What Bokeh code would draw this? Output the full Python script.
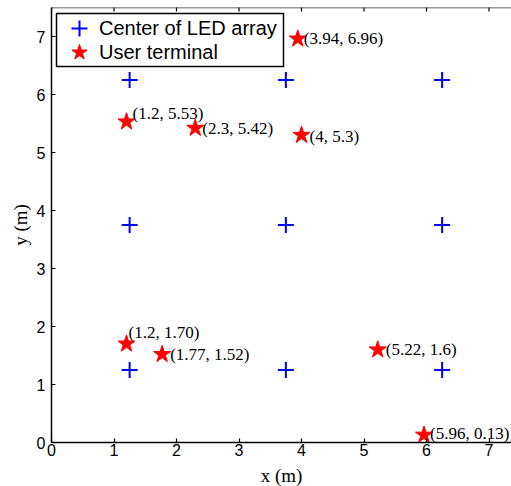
import math
from bokeh.plotting import figure
from bokeh.models import (ColumnDataSource, Range1d, LinearAxis, FixedTicker, Legend,
                          LegendItem, Span, BoxAnnotation)
from bokeh.core.properties import value
from bokeh.embed import file_html
from bokeh.resources import INLINE

# LED array centres
led_x = [1.25, 3.75, 6.25, 1.25, 3.75, 6.25, 1.25, 3.75, 6.25]
led_y = [6.25, 6.25, 6.25, 3.75, 3.75, 3.75, 1.25, 1.25, 1.25]

# user terminals
ut_x = [1.2, 2.3, 3.94, 4.0, 1.2, 1.77, 5.22, 5.96]
ut_y = [5.53, 5.42, 6.96, 5.3, 1.70, 1.52, 1.6, 0.13]
ut_labels = ["(1.2, 5.53)", "(2.3, 5.42)", "(3.94, 6.96)", "(4, 5.3)",
             "(1.2, 1.70)", "(1.77, 1.52)", "(5.22, 1.6)", "(5.96, 0.13)"]

legend_labels = ["Center of LED array", "User terminal"]

# label placement (screen pixels)
label_dx = [6, 7, 6, 8, 2, 8, 8, 6]
label_dy = [-8, 0, 0, 1, -11, 0, 0, -1]

x_ticks = [0, 1, 2, 3, 4, 5, 6, 7]
y_ticks = [0, 1, 2, 3, 4, 5, 6, 7]

X_MAX = 7.36
Y_MAX = 7.5
FRAME_H = 435

p = figure(width=511, frame_height=FRAME_H, output_backend="svg", toolbar_location=None,
           x_range=Range1d(0, X_MAX), y_range=Range1d(0, Y_MAX),
           x_axis_location=None, y_axis_location=None,
           min_border_left=51, min_border_right=0, min_border_top=7, min_border_bottom=0)
p.outline_line_color = None
p.xgrid.visible = False
p.ygrid.visible = False
p.background_fill_color = "white"
p.border_fill_color = "white"

def style_axis(ax):
    ax.major_tick_in = 4
    ax.major_tick_out = 0
    ax.minor_tick_line_color = None
    ax.axis_line_width = 1.5
    ax.major_tick_line_width = 1.2
    ax.axis_line_color = "black"
    ax.major_label_text_font = "Liberation Sans"
    ax.major_label_text_font_size = "16px"
    ax.major_label_text_color = "black"
    ax.axis_label_text_font = "Liberation Serif"
    ax.axis_label_text_font_size = "19px"
    ax.axis_label_text_font_style = "normal"
    ax.axis_label_text_color = "black"

xb = LinearAxis(ticker=FixedTicker(ticks=x_ticks), axis_label="x (m)")
style_axis(xb)
xb.major_label_standoff = 1
xb.axis_label_standoff = 6
p.add_layout(xb, "below")

yl = LinearAxis(ticker=FixedTicker(ticks=y_ticks), axis_label="y (m)")
style_axis(yl)
yl.major_label_standoff = 6
yl.axis_label_standoff = 3
p.add_layout(yl, "left")

# top frame line with inward ticks
p.add_layout(Span(location=Y_MAX, dimension="width", line_color="#333333", line_width=1.5))
top_src = ColumnDataSource(dict(x=x_ticks, y=[Y_MAX] * len(x_ticks)))
p.scatter("x", "y", source=top_src, marker="dash", angle=math.pi / 2, size=8,
          line_color="black", line_width=1.2)

led_src = ColumnDataSource(dict(x=led_x, y=led_y))
ut_src = ColumnDataSource(dict(x=ut_x, y=ut_y, label=ut_labels, dx=label_dx, dy=label_dy))

r_led = p.scatter("x", "y", source=led_src, marker="cross", size=16,
                  line_color="blue", line_width=2)
r_ut = p.scatter("x", "y", source=ut_src, marker="star", size=18,
                 fill_color="red", line_color="red", line_width=1)
p.text("x", "y", text="label", source=ut_src, x_offset="dx", y_offset="dy",
       text_font=value("Liberation Serif"), text_font_size="17px",
       text_align="left", text_baseline="middle", text_color="black")

# legend frame (screen units from the frame's bottom-left corner)
box = BoxAnnotation(left=5, right=232, top=FRAME_H - 6, bottom=FRAME_H - 59,
                    left_units="screen", right_units="screen",
                    top_units="screen", bottom_units="screen",
                    fill_color="white", fill_alpha=1.0,
                    line_color="black", line_width=1.5, line_alpha=1.0)
p.add_layout(box)

def make_legend(label, renderer, row):
    lg = Legend(items=[LegendItem(label=label, renderers=[renderer])],
                location=(8, FRAME_H - 41 - 24 * row))
    lg.margin = 0
    lg.padding = 0
    lg.spacing = 0
    lg.label_height = 40
    lg.glyph_height = 40
    lg.glyph_width = 40
    lg.label_standoff = 0
    lg.label_text_font = "Liberation Sans"
    lg.label_text_font_size = "20px"
    lg.label_text_color = "black"
    lg.border_line_color = None
    lg.background_fill_alpha = 0.0
    return lg

p.add_layout(make_legend(legend_labels[0], r_led, 0), "center")
p.add_layout(make_legend(legend_labels[1], r_ut, 1), "center")

open("out.html", "w").write(file_html(p, INLINE))
